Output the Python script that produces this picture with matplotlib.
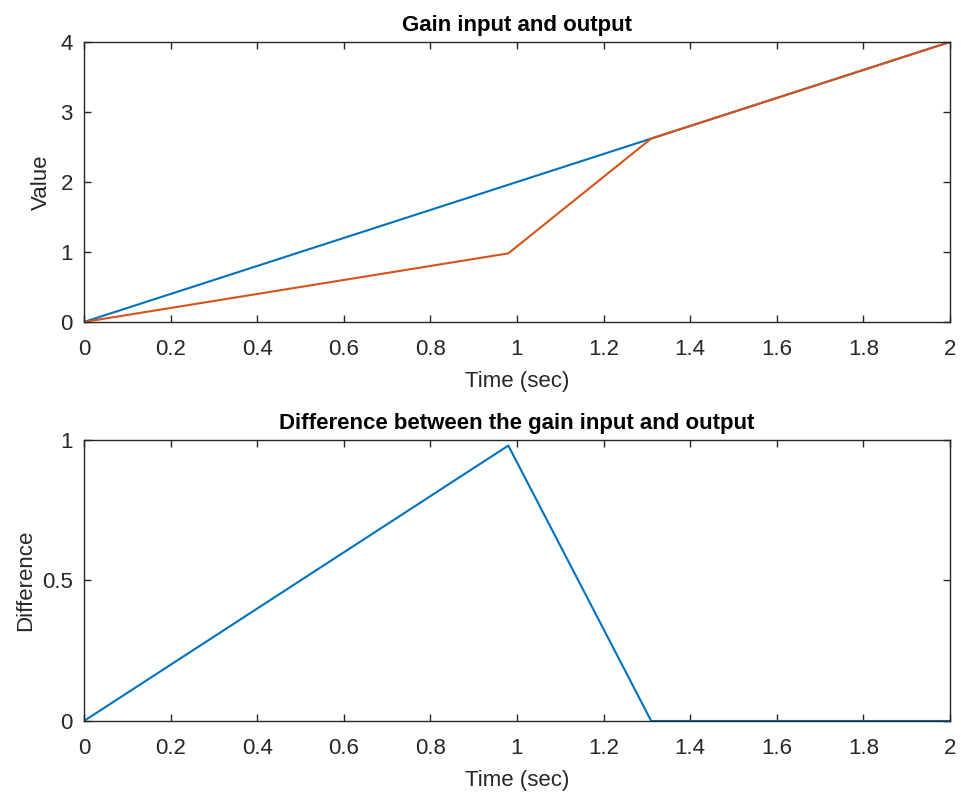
import matplotlib
matplotlib.use("Agg")
import matplotlib.pyplot as plt

# simulation data
t = [0, 0.98, 1.31, 2]
gain_in = [0, 1.96, 2.62, 4]
gain_out = [0, 0.98, 2.62, 4]
diff = [0, 0.98, 0, 0]

xticks = [0, 0.2, 0.4, 0.6, 0.8, 1, 1.2, 1.4, 1.6, 1.8, 2]
xticklabels = ["0", "0.2", "0.4", "0.6", "0.8", "1", "1.2", "1.4", "1.6", "1.8", "2"]

plt.rcParams['font.family'] = ['Liberation Sans', 'DejaVu Sans']
plt.rcParams['font.size'] = 16

fig = plt.figure(figsize=(9.62, 7.95), dpi=100)
ax1 = fig.add_axes([0.0873, 0.595, 0.9002, 0.3522])
ax2 = fig.add_axes([0.0873, 0.0931, 0.9002, 0.3535])

ax1.plot(t, gain_in, color="#0072BD", lw=1.5)
ax1.plot(t, gain_out, color="#D95319", lw=1.5)
ax1.set_xlim(0, 2)
ax1.set_ylim(0, 4)
ax1.set_yticks([0, 1, 2, 3, 4])
ax1.set_title("Gain input and output", fontweight="bold", fontsize=16, pad=8)
ax1.set_xlabel("Time (sec)", labelpad=8)
ax1.set_ylabel("Value", labelpad=6)

ax2.plot(t, diff, color="#0072BD", lw=1.5)
ax2.set_xlim(0, 2)
ax2.set_ylim(0, 1)
ax2.set_yticks([0, 0.5, 1])
ax2.set_yticklabels(["0", "0.5", "1"])
ax2.set_title("Difference between the gain input and output", fontweight="bold", fontsize=16, pad=8)
ax2.set_xlabel("Time (sec)", labelpad=8)
ax2.set_ylabel("Difference", labelpad=4)

for ax in (ax1, ax2):
    ax.set_xticks(xticks)
    ax.set_xticklabels(xticklabels)
    ax.tick_params(direction="in", top=True, right=True, length=5, width=1,
                   colors="#262626", labelcolor="#262626", labelsize=16, pad=8)
    ax.tick_params(axis="x", pad=12)
    for s in ax.spines.values():
        s.set_color("#262626")
        s.set_linewidth(1)
    ax.xaxis.label.set_color("#262626")
    ax.yaxis.label.set_color("#262626")

plt.savefig("out.png", dpi=100)
